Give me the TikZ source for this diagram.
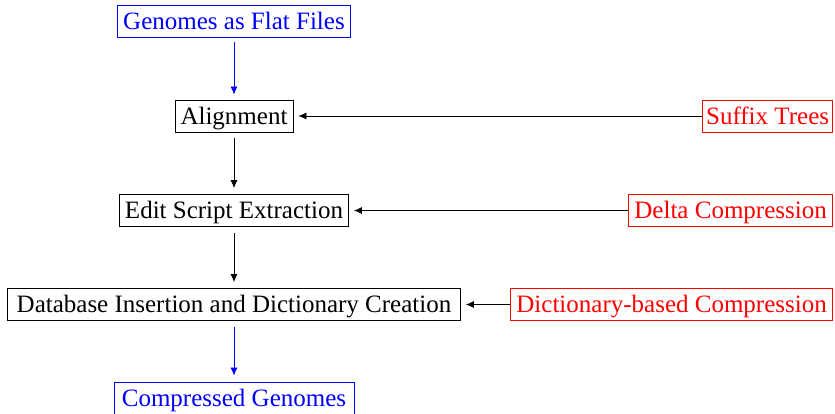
\documentclass[tikz,border=0pt]{standalone}
\usepackage{fontspec}
\setmainfont{Liberation Serif}
\usetikzlibrary{arrows.meta}
\begin{document}
\begin{tikzpicture}[x=1pt,y=-1pt,
  box/.style={draw, line width=0.8pt, inner sep=0pt, minimum height=32pt, font=\fontsize{25}{28}\selectfont, text depth=0.22ex},
  bluebox/.style={box, draw=blue, text=blue},
  redbox/.style={box, draw=red, text=red, anchor=east},
  arr/.style={-{Latex[length=8pt,width=7pt]}, line width=0.7pt},
  ]
\useasboundingbox (0,0) rectangle (835,414);
\node[bluebox, minimum width=233pt] (gen) at (234,21) {Genomes as Flat Files};
\node[box, minimum width=118pt] (ali) at (234,116) {Alignment};
\node[box, minimum width=229pt] (ese) at (234,210.5) {Edit Script Extraction};
\node[box, minimum width=453pt] (dbi) at (234,304.5) {Database Insertion and Dictionary Creation};
\node[bluebox, minimum width=240pt] (cg) at (234,398) {Compressed Genomes};
\node[redbox, minimum width=130pt] (st) at (833,116) {Suffix Trees};
\node[redbox, minimum width=204pt] (dc) at (833,210.5) {Delta Compression};
\node[redbox, minimum width=322pt] (dic) at (833,304.5) {Dictionary-based Compression};
\draw[arr, blue, shorten <=5pt, shorten >=5pt] (gen) -- (ali);
\draw[arr, shorten <=6pt, shorten >=6pt] (ali) -- (ese);
\draw[arr, shorten <=6pt, shorten >=6pt] (ese) -- (dbi);
\draw[arr, blue, shorten <=6pt, shorten >=6pt] (dbi) -- (cg);
\draw[arr, shorten >=5pt] (st) -- (ali);
\draw[arr, shorten >=5pt] (dc) -- (ese);
\draw[arr, shorten >=5pt] (dic) -- (dbi);
\end{tikzpicture}
\end{document}
